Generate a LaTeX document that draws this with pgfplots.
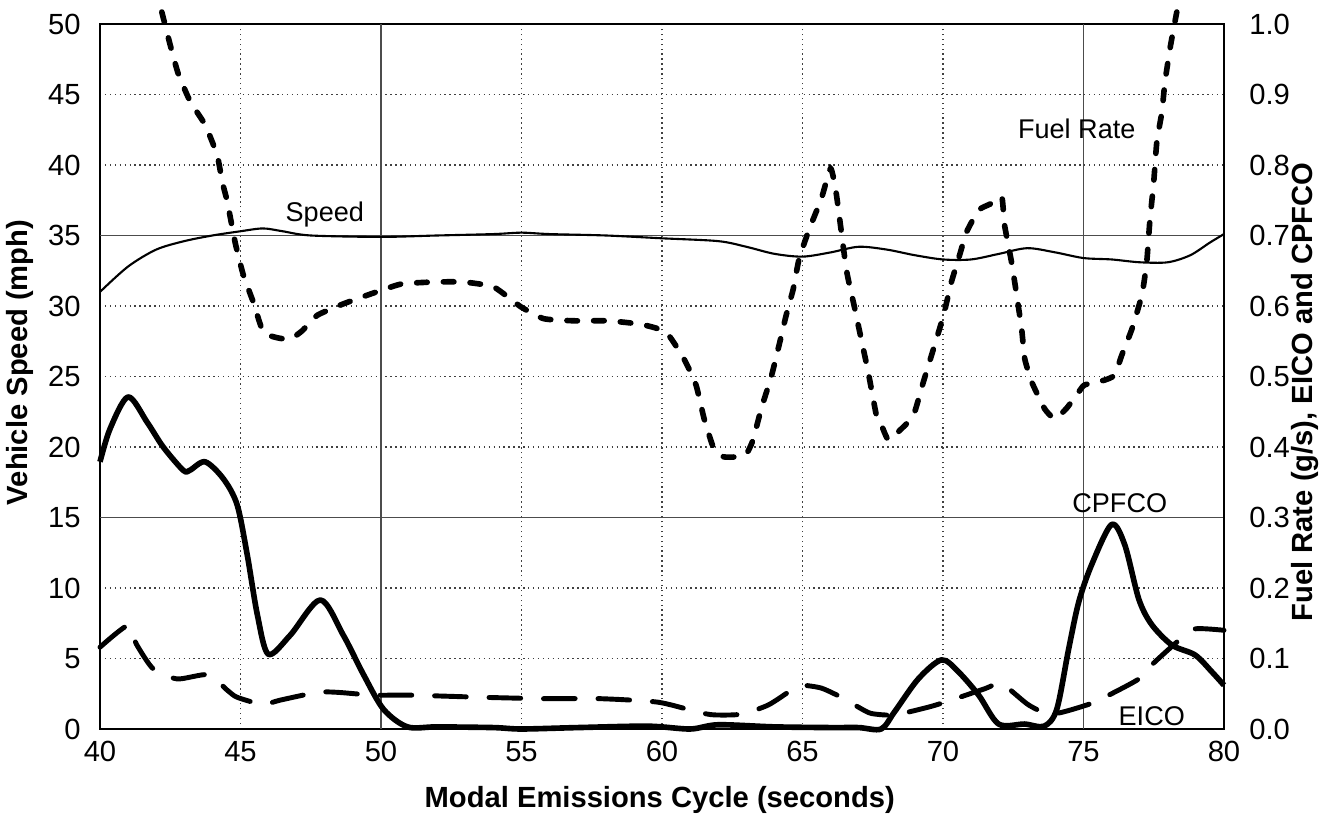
\documentclass[border=0pt]{standalone}
\usepackage{pgfplots}
\pgfplotsset{compat=1.18}
\usepackage{fontspec}
\setmainfont{Liberation Sans}
\newcommand{\fs}{\fontsize{8.3}{10}\selectfont}
\newcommand{\fl}{\fontsize{7.7}{9}\selectfont}
\begin{document}
\begin{tikzpicture}
\useasboundingbox (-1cm,-1cm) rectangle (12.33cm,7.29cm);
\pgfplotsset{
  every axis/.append style={
    scale only axis, width=11.24cm, height=7.05cm,
    at={(0,0)}, anchor=south west,
    xmin=40, xmax=80,
    major tick length=0pt,
    /pgf/number format/assume math mode=true,
    tick label style={font=\fs},
    label style={font=\fs\bfseries},
    axis line style={line width=0.7pt},
  }
}
\begin{axis}[
  ymin=0, ymax=50,
  xtick={40,45,...,80}, ytick={0,5,...,50},
  grid=major,
  grid style={densely dotted, black!75, line width=0.45pt},
  extra x ticks={50,75}, extra x tick labels={},
  extra y ticks={15,35}, extra y tick labels={},
  extra tick style={grid=major, major grid style={solid, black!70, line width=0.4pt}},
  xticklabel style={yshift=0cm},
  yticklabel style={xshift=-0.07cm},
  xlabel={Modal Emissions Cycle (seconds)},
  ylabel={Vehicle Speed (mph)},
  every axis x label/.append style={at={(axis description cs:0.498,-0.1)}, anchor=center},
  every axis y label/.append style={at={(axis description cs:-0.071,0.52)}, anchor=center, rotate=0},
]
\addplot[black, line width=0.6pt, smooth, tension=0.5] coordinates {
(40,31.0)(41,32.8)(42,34.0)(43,34.6)(44,35.0)(45,35.3)(45.8,35.5)(46.5,35.3)(47.5,35.0)
(50,34.9)(52,35.0)(54,35.1)(55,35.2)(56,35.1)(58,35.0)(60,34.8)(62,34.6)(63,34.2)
(64,33.7)(65,33.5)(66,33.8)(67,34.2)(68,34.0)(69,33.6)(70,33.3)(71,33.3)(72,33.7)
(73,34.1)(74,33.8)(75,33.4)(76,33.3)(77,33.1)(78,33.1)(78.8,33.6)(79.5,34.5)(80,35.1)
};
\node[font=\fl] at (axis cs:48.0,36.5) {Speed};
\end{axis}
\begin{axis}[
  ymin=0, ymax=1,
  ytick={0,0.1,...,1.0},
  yticklabel style={/pgf/number format/.cd, fixed, fixed zerofill, precision=1, /tikz/.cd, xshift=0.13cm},
  axis y line*=right, axis x line=none,
  clip=false,
  ylabel={Fuel Rate (g/s), EICO and CPFCO},
  every axis y label/.append style={at={(axis description cs:1.072,0.478)}, anchor=center, rotate=0},
]
% Fuel Rate
\addplot[black, line width=1.6pt, line cap=round, dash pattern=on 3.0pt off 4.6pt, smooth, tension=0.3] coordinates {
(42.20,1.017)(42.50,0.970)(42.78,0.930)(43.21,0.890)(43.74,0.857)(44.17,0.814)(44.35,0.776)
(44.53,0.748)(44.81,0.690)(45.10,0.644)(45.45,0.606)(45.81,0.563)(46.30,0.555)(46.77,0.553)
(47.20,0.565)(47.74,0.587)(48.66,0.603)(49.63,0.617)(50.70,0.631)(51.87,0.634)(52.94,0.634)
(54.01,0.627)(54.97,0.599)(55.79,0.582)(56.86,0.579)(58.07,0.579)(59.25,0.574)(60.14,0.563)
(60.78,0.525)(61.21,0.488)(61.50,0.440)(61.85,0.397)(62.20,0.386)(62.64,0.386)(63.00,0.390)
(63.24,0.410)(63.53,0.454)(63.89,0.500)(64.17,0.545)(64.42,0.587)(64.67,0.624)(64.88,0.667)
(65.24,0.709)(65.67,0.752)(66.00,0.795)(66.20,0.760)(66.56,0.652)(66.84,0.600)(67.09,0.553)
(67.34,0.506)(67.63,0.445)(67.81,0.431)(68.06,0.410)(68.50,0.425)(68.95,0.445)(69.30,0.492)
(69.66,0.539)(70.02,0.587)(70.30,0.634)(70.59,0.672)(70.84,0.705)(71.27,0.736)(71.70,0.745)
(72.09,0.755)(72.19,0.715)(72.44,0.662)(72.62,0.616)(72.80,0.567)(72.91,0.525)(73.16,0.492)
(73.62,0.454)(73.98,0.440)(74.40,0.455)(74.83,0.478)(75.04,0.488)(75.76,0.495)(76.11,0.502)
(76.36,0.530)(76.72,0.567)(77.08,0.616)(77.25,0.662)(77.36,0.720)(77.50,0.776)(77.61,0.833)
(77.79,0.875)(77.90,0.918)(78.10,0.970)(78.32,1.017)
};
% CPFCO
\addplot[black, line width=1.6pt, line join=round, smooth, tension=0.5] coordinates {
(40.0,0.379)(40.36,0.426)(41.0,0.471)(41.68,0.435)(42.25,0.400)(42.96,0.367)(43.2,0.367)
(43.74,0.379)(44.39,0.355)(44.88,0.318)(45.24,0.247)(45.6,0.162)(45.99,0.106)(46.77,0.133)
(47.84,0.183)(48.66,0.133)(49.38,0.077)(50.09,0.028)(50.94,0.003)(52,0.003)(54,0.002)
(55,0.0)(57,0.002)(59.5,0.004)(61,0.0)(62,0.006)(64,0.003)(66,0.002)(67,0.002)(67.8,0.0)
(68.27,0.024)(69.12,0.071)(69.95,0.098)(70.55,0.081)(71.27,0.048)(71.98,0.007)(72.9,0.007)
(73.6,0.004)(74.05,0.028)(74.47,0.113)(74.83,0.180)(75.29,0.233)(76.0,0.290)(76.47,0.261)
(76.97,0.184)(77.43,0.148)(78.15,0.119)(78.97,0.105)(79.57,0.081)(80.0,0.062)
};
% EICO
\addplot[black, line width=1.4pt, line cap=round, dash pattern=on 9pt off 6.5pt, smooth, tension=0.4] coordinates {
(40.0,0.116)(41.0,0.147)(41.3,0.120)(41.9,0.085)(42.75,0.071)(43.85,0.077)(44.53,0.055)
(44.88,0.045)(45.78,0.035)(46.42,0.041)(47.74,0.052)(48.45,0.052)(49.73,0.048)(51.05,0.048)
(53.55,0.045)(55.79,0.043)(57.8,0.043)(59.86,0.038)(61.28,0.024)(61.85,0.020)(62.82,0.021)
(63.78,0.034)(64.6,0.055)(64.96,0.062)(65.67,0.058)(66.38,0.045)(66.99,0.031)(67.45,0.022)
(68.27,0.020)(69.48,0.031)(70.3,0.041)(71.48,0.057)(72.09,0.064)(73.05,0.034)(73.87,0.021)
(75.19,0.035)(75.9,0.048)(76.97,0.071)(77.43,0.091)(78.4,0.126)(78.97,0.142)(80.0,0.140)
};
\node[font=\fl] at (axis cs:74.76,0.851) {Fuel Rate};
\node[font=\fl] at (axis cs:76.29,0.320) {CPFCO};
\node[font=\fl] at (axis cs:77.43,0.018) {EICO};
\end{axis}
\end{tikzpicture}
\end{document}
